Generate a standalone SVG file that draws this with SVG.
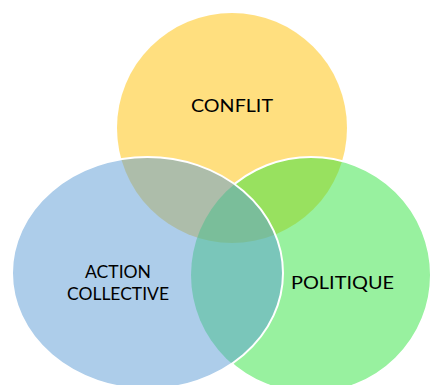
<svg xmlns="http://www.w3.org/2000/svg" width="430" height="385" viewBox="0 0 430 385">
<style>
.lbl{font-family:Lato,"Open Sans",sans-serif;font-size:18px;fill:#000;text-anchor:middle}
.edge{fill:none;stroke:#fff;stroke-width:2}
</style>
<defs>
<clipPath id="outBlue">
<path clip-rule="evenodd" d="M-10,-10H440V395H-10Z M12,273a135.5,116 0 1,0 271,0a135.5,116 0 1,0 -271,0Z"/>
</clipPath>
</defs>
<rect width="430" height="385" fill="#fff"/>
<g id="conflit">
<circle cx="232" cy="128" r="115" fill="#FFC000" fill-opacity="0.5"/>
<text class="lbl" x="232" y="112" textLength="82" lengthAdjust="spacingAndGlyphs">CONFLIT</text>
</g>
<g id="politique">
<ellipse cx="311" cy="275" rx="120" ry="118" fill="#31E33F" fill-opacity="0.5"/>
<ellipse class="edge" cx="311" cy="275" rx="120" ry="118" clip-path="url(#outBlue)"/>
</g>
<g id="action-collective">
<ellipse cx="147.5" cy="273" rx="135.5" ry="116" fill="#5B9BD5" fill-opacity="0.5"/>
<ellipse class="edge" cx="147.5" cy="273" rx="135.5" ry="116"/>
<text class="lbl" x="118" y="278" textLength="66" lengthAdjust="spacingAndGlyphs">ACTION</text>
<text class="lbl" x="118" y="300" textLength="102" lengthAdjust="spacingAndGlyphs">COLLECTIVE</text>
</g>
<g id="politique-label">
<text class="lbl" x="342.5" y="289" textLength="103" lengthAdjust="spacingAndGlyphs">POLITIQUE</text>
</g>
<g id="connectors"/>
</svg>
